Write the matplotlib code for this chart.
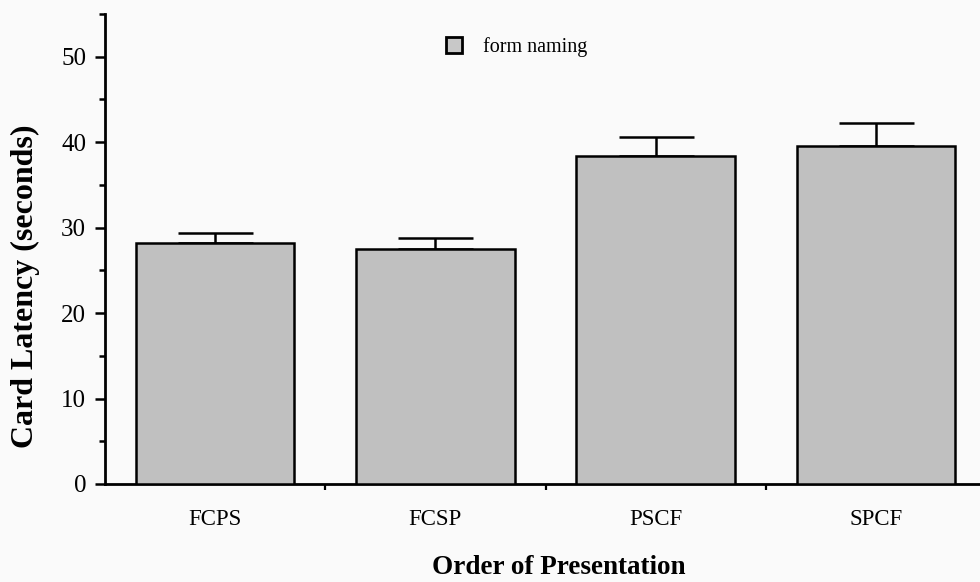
import matplotlib
matplotlib.use("Agg")
import matplotlib.pyplot as plt
from matplotlib.ticker import MultipleLocator
from matplotlib.lines import Line2D

categories = ["FCPS", "FCSP", "PSCF", "SPCF"]
means = [28.2, 27.5, 38.4, 39.5]
errors = [1.2, 1.3, 2.2, 2.8]
series_name = "form naming"
y_label = "Card Latency (seconds)"
x_label = "Order of Presentation"

plt.rcParams['font.family'] = ['Liberation Serif', 'DejaVu Serif']

fig = plt.figure(figsize=(9.8, 5.82), dpi=100, facecolor="#fafafa")
ax = fig.add_axes([105/980, 1-484/582, 881/980, (484-14)/582])
ax.set_facecolor("none")

x = list(range(len(categories)))
ax.bar(x, means, width=0.72, color="#c0c0c0", edgecolor="black", linewidth=1.8, zorder=3)
ax.errorbar(x, means, yerr=[[0]*len(errors), errors], fmt="none", ecolor="black",
            elinewidth=1.8, capsize=27, capthick=1.8, zorder=2)

ax.set_xlim(-0.5, 3.5)
ax.set_ylim(0, 55)
ax.yaxis.set_major_locator(MultipleLocator(10))
ax.yaxis.set_minor_locator(MultipleLocator(5))
ax.set_xticks([0.5, 1.5, 2.5])
ax.set_xticklabels([])
ax.set_xticks(x, minor=True)
ax.set_xticklabels(categories, minor=True, fontsize=16.5)
ax.tick_params(axis="x", which="major", length=4, width=1.6, direction="out")
ax.tick_params(axis="x", which="minor", length=0, pad=18)
ax.tick_params(axis="y", which="major", length=7.5, width=1.8, labelsize=18, pad=6)
ax.tick_params(axis="y", which="minor", length=4.5, width=1.8)

for s in ["top", "right"]:
    ax.spines[s].set_visible(False)
ax.spines["left"].set_linewidth(2.0)
ax.spines["bottom"].set_linewidth(2.0)

fig.text(25/980, 1-286/582, y_label, rotation=90, ha="center", va="center",
         fontsize=23, fontweight="bold")
fig.text(559/980, 1-567/582, x_label, ha="center", va="center",
         fontsize=19.5, fontweight="bold")

handle = Line2D([], [], marker="s", linestyle="none", markersize=12,
                markerfacecolor="#c8c8c8", markeredgecolor="black", markeredgewidth=2.0)
ax.legend([handle], [series_name], loc="center left", bbox_to_anchor=(339/881, 1-(47-14)/470),
          frameon=False, fontsize=14.5, handletextpad=0.95, borderaxespad=0, handlelength=1.0,
          borderpad=0)

fig.savefig("out.png", dpi=100, facecolor=fig.get_facecolor())
